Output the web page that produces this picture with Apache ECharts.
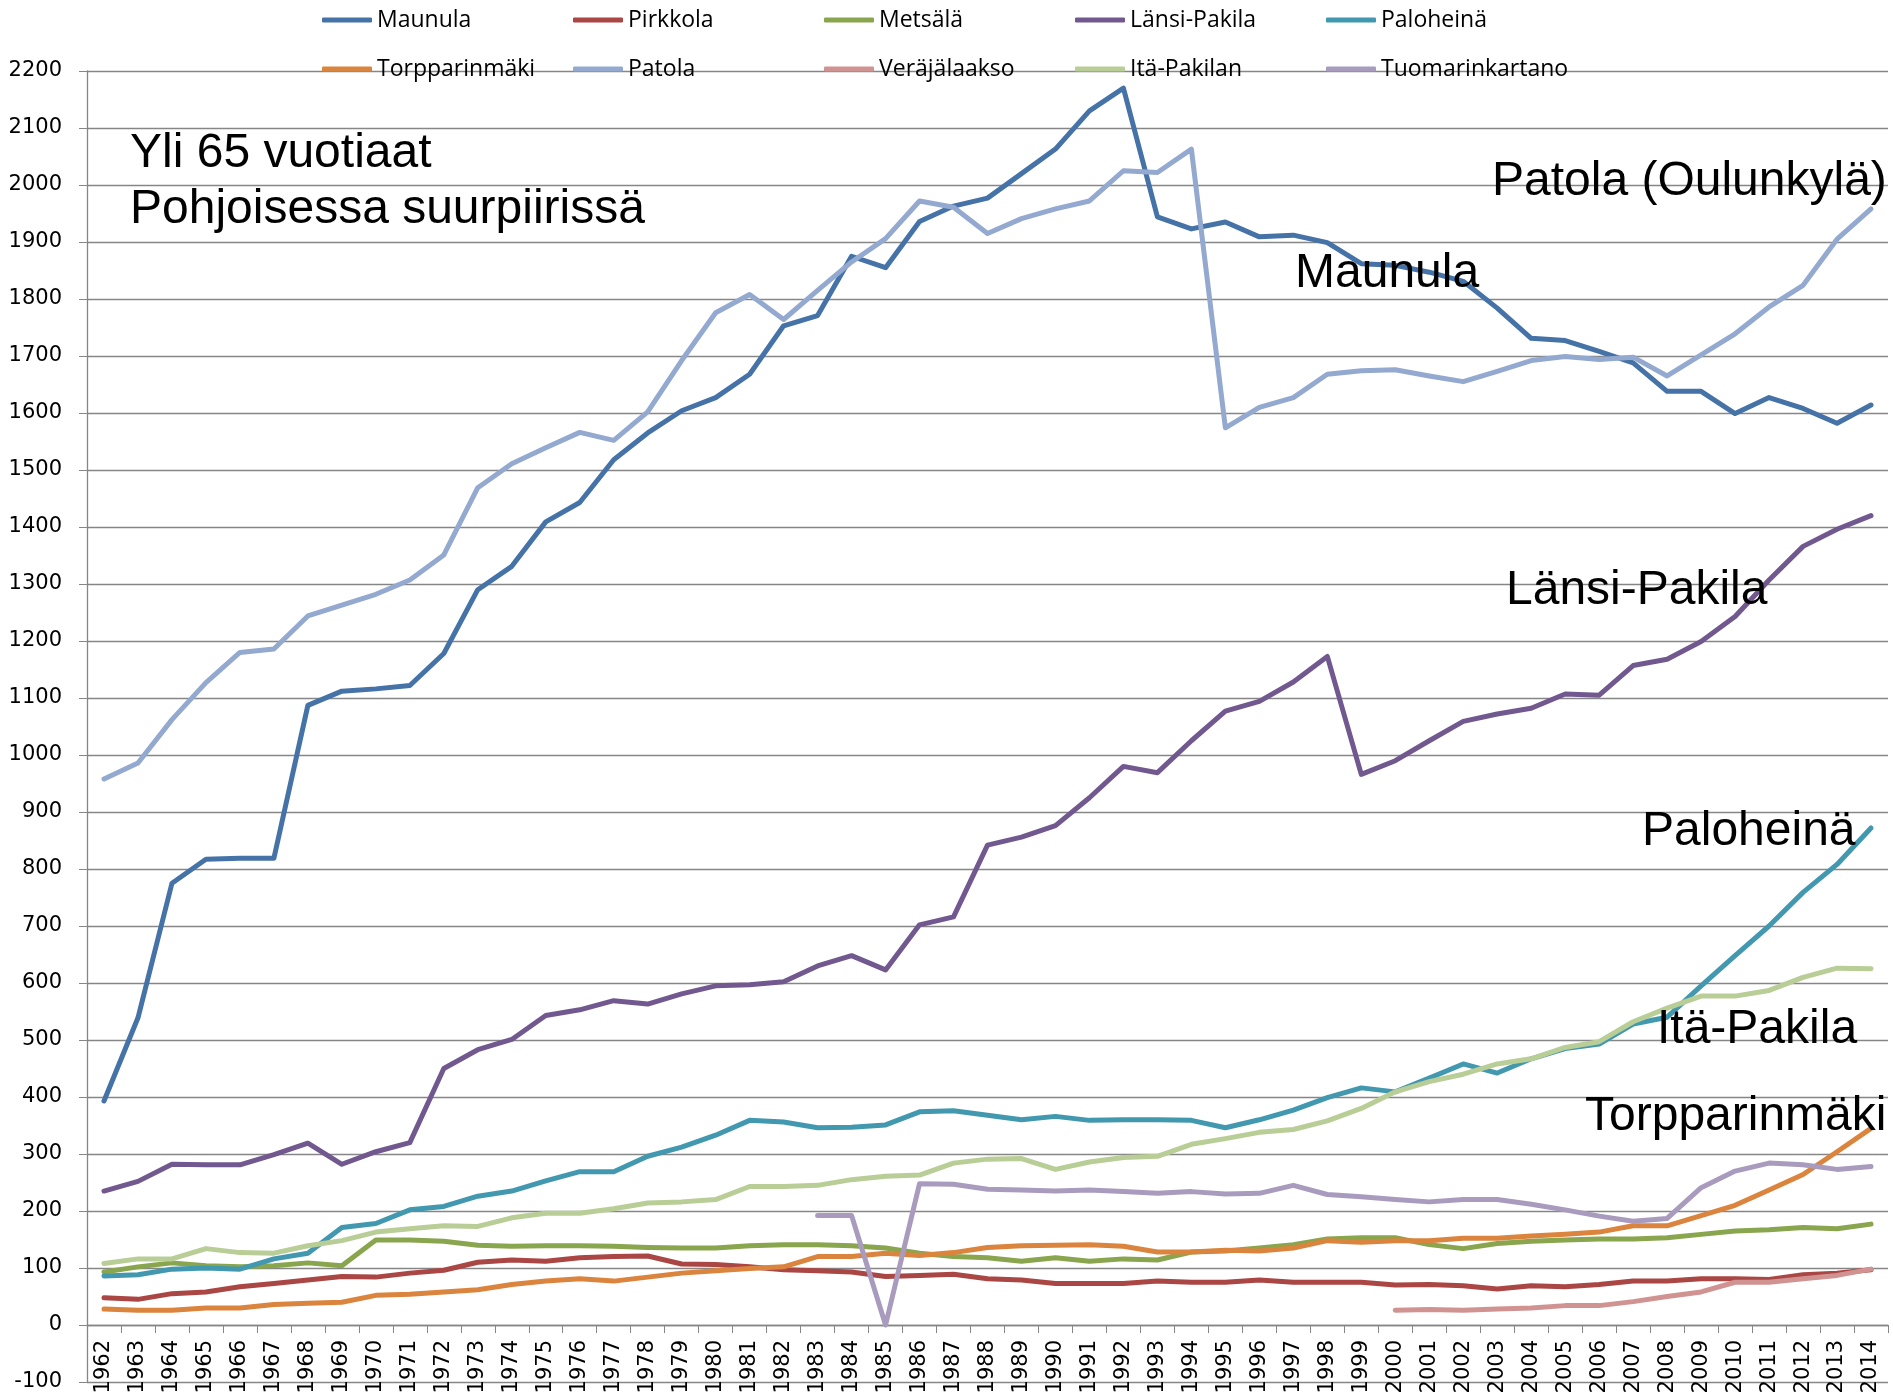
<!DOCTYPE html>
<html>
<head>
<meta charset="utf-8">
<title>Yli 65 vuotiaat Pohjoisessa suurpiirissä</title>
<script src="https://cdn.jsdelivr.net/npm/echarts@6/dist/echarts.min.js"></script>
<style>
  html, body { margin: 0; padding: 0; background: #ffffff; }
  #chart { width: 1893px; height: 1397px; }
</style>
</head>
<body>
<div id="chart"></div>
<script>
  // vuodet 1962-2014
  var years = ['1962','1963','1964','1965','1966','1967','1968','1969','1970','1971',
    '1972','1973','1974','1975','1976','1977','1978','1979','1980','1981',
    '1982','1983','1984','1985','1986','1987','1988','1989','1990','1991',
    '1992','1993','1994','1995','1996','1997','1998','1999','2000','2001',
    '2002','2003','2004','2005','2006','2007','2008','2009','2010','2011',
    '2012','2013','2014'];

  var maunula = [393, 539, 775, 817, 819, 819, 1087, 1112, 1116, 1122,
    1178, 1290, 1331, 1409, 1443, 1518, 1565, 1604, 1627, 1668,
    1753, 1771, 1875, 1855, 1936, 1963, 1977, 2020, 2063, 2130,
    2170, 1944, 1923, 1935, 1909, 1912, 1899, 1862, 1859, 1847,
    1831, 1784, 1731, 1727, 1708, 1688, 1638, 1638, 1599, 1627,
    1608, 1582, 1614];
  var pirkkola = [48, 45, 55, 58, 67, 73, 79, 85, 84, 91,
    96, 110, 114, 112, 118, 120, 121, 107, 106, 102,
    97, 95, 93, 85, 87, 89, 81, 79, 73, 73,
    73, 77, 75, 75, 79, 75, 75, 75, 70, 71,
    69, 63, 69, 67, 71, 77, 77, 81, 81, 80,
    88, 91, 97];
  var metsala = [93, 102, 109, 104, 102, 104, 109, 104, 149, 149,
    147, 140, 138, 139, 139, 138, 136, 135, 135, 139,
    141, 141, 139, 135, 126, 120, 118, 112, 118, 112,
    116, 114, 128, 130, 135, 141, 151, 153, 153, 141,
    134, 143, 147, 149, 151, 151, 153, 159, 165, 167,
    171, 169, 177];
  var lansiPakila = [235, 252, 282, 281, 281, 299, 319, 282, 304, 320,
    450, 483, 501, 543, 553, 569, 563, 581, 595, 597,
    602, 630, 648, 623, 702, 716, 842, 856, 876, 925,
    980, 969, 1025, 1077, 1094, 1128, 1173, 966, 990, 1025,
    1059, 1072, 1082, 1107, 1105, 1157, 1168, 1199, 1243, 1307,
    1366, 1396, 1420];
  var paloheina = [86, 88, 98, 100, 98, 116, 126, 171, 178, 202,
    208, 226, 235, 253, 269, 269, 296, 312, 333, 359,
    356, 346, 347, 351, 374, 376, 368, 360, 366, 359,
    360, 360, 359, 346, 360, 377, 399, 416, 409, 433,
    458, 442, 467, 485, 493, 528, 540, 595, 648, 700,
    759, 808, 872];
  var torpparinmaki = [28, 26, 26, 30, 30, 36, 38, 40, 52, 54,
    58, 62, 71, 77, 81, 77, 84, 91, 95, 99,
    102, 120, 120, 126, 122, 127, 136, 139, 140, 141,
    138, 128, 128, 131, 130, 135, 148, 145, 148, 148,
    152, 152, 156, 159, 163, 174, 174, 192, 210, 237,
    264, 304, 345];
  var patola = [958, 986, 1062, 1127, 1180, 1186, 1244, 1263, 1282, 1307,
    1351, 1469, 1511, 1539, 1566, 1552, 1602, 1692, 1776, 1808,
    1764, 1815, 1865, 1906, 1972, 1961, 1915, 1941, 1958, 1972,
    2025, 2022, 2063, 1574, 1610, 1627, 1668, 1674, 1676, 1665,
    1655, 1673, 1692, 1699, 1694, 1698, 1665, 1702, 1739, 1786,
    1824, 1905, 1958];
  // Veräjälaakso 2000-2014
  var verajalaakso = [26, 27, 26, 28, 30, 34, 34, 41, 50, 58, 75, 75, 81, 87, 98];
  var itaPakilan = [108, 116, 116, 134, 127, 126, 139, 148, 163, 169,
    174, 173, 188, 196, 196, 204, 214, 216, 220, 243,
    243, 245, 255, 261, 263, 284, 291, 292, 273, 286,
    294, 296, 317, 327, 338, 343, 358, 380, 409, 427,
    440, 458, 467, 487, 497, 532, 556, 577, 577, 587,
    610, 626, 625];
  // Tuomarinkartano 1983-2014
  var tuomarinkartano = [192, 192, 0, 248, 247, 238, 237, 235, 237, 234,
    231, 234, 230, 231, 245, 229, 225, 220, 216, 220,
    220, 212, 202, 191, 182, 187, 241, 270, 284, 281,
    273, 278];

  var names = ['Maunula', 'Pirkkola', 'Metsälä', 'Länsi-Pakila', 'Paloheinä',
    'Torpparinmäki', 'Patola', 'Veräjälaakso', 'Itä-Pakilan', 'Tuomarinkartano'];
  var colors = ['#4572A7', '#AA4643', '#89A54E', '#71588F', '#4198AF',
    '#DB843D', '#93A9CF', '#D19392', '#B9CD96', '#A99BBD'];

  // sarjat jotka alkavat myöhemmin: alku täytetään tyhjillä
  function fromYear(startYear, arr) {
    var pad = years.indexOf(String(startYear));
    var out = [];
    for (var i = 0; i < pad; i++) out.push(null);
    return out.concat(arr);
  }

  var values = [maunula, pirkkola, metsala, lansiPakila, paloheina,
    torpparinmaki, patola, fromYear(2000, verajalaakso), itaPakilan,
    fromYear(1983, tuomarinkartano)];

  // tekstit kuvan sisällä
  var notes = [
    ['Yli 65 vuotiaat', 130, 154],
    ['Pohjoisessa suurpiirissä', 130, 210],
    ['Patola (Oulunkylä)', 1492, 182],
    ['Maunula', 1295, 274],
    ['Länsi-Pakila', 1506, 591],
    ['Paloheinä', 1642, 832],
    ['Itä-Pakila', 1657, 1030],
    ['Torpparinmäki', 1585, 1117]
  ];

  var uiFont = '"Open Sans", "Liberation Sans", sans-serif';
  var axisFont = '"DejaVu Sans", sans-serif';
  var gridColor = '#868686';

  var legendBase = {
    icon: 'roundRect',
    itemWidth: 50,
    itemHeight: 5,
    itemGap: 20,
    left: 317,
    selectedMode: false,
    textStyle: { fontFamily: uiFont, fontSize: 23, color: '#000', width: 176, lineHeight: 26 }
  };

  var chart = echarts.init(document.getElementById('chart'), null, { renderer: 'canvas' });
  chart.setOption({
    animation: false,
    backgroundColor: '#ffffff',
    color: colors,
    grid: { left: 87, right: 5, top: 71, bottom: 15, containLabel: false, outerBoundsMode: 'none' },
    legend: [
      Object.assign({}, legendBase, { data: names.slice(0, 5), top: 2 }),
      Object.assign({}, legendBase, { data: names.slice(5), top: 51 })
    ],
    xAxis: [{
      // akseliviiva nollan kohdalla
      type: 'category',
      data: years,
      boundaryGap: true,
      axisLine: { onZero: true, lineStyle: { color: gridColor, width: 1.3 } },
      axisTick: { show: true, interval: 0, length: 8, lineStyle: { color: gridColor } },
      axisLabel: { show: false },
      splitLine: { show: false }
    }, {
      // vuosiluvut pystyssä nollaviivan alla
      type: 'category',
      data: years,
      position: 'bottom',
      boundaryGap: true,
      axisLine: { show: false, onZero: false },
      axisTick: { show: false },
      axisLabel: { rotate: 90, interval: 0, fontSize: 21, fontFamily: axisFont, color: '#000', margin: -42 },
      splitLine: { show: false }
    }],
    yAxis: {
      type: 'value',
      min: -100,
      max: 2200,
      interval: 100,
      axisLine: { show: true, lineStyle: { color: gridColor, width: 1.3 } },
      axisTick: { show: true, length: 8, lineStyle: { color: gridColor } },
      axisLabel: {
        fontSize: 21, fontFamily: axisFont, color: '#000', margin: 25,
        formatter: function (v) { return String(v); }
      },
      splitLine: { lineStyle: { color: gridColor, width: 1.3 } }
    },
    series: names.map(function (n, i) {
      return {
        name: n,
        type: 'line',
        data: values[i],
        symbol: 'none',
        connectNulls: false,
        lineStyle: { width: 5, color: colors[i], cap: 'round', join: 'round' },
        itemStyle: { color: colors[i] },
        emphasis: { disabled: true }
      };
    }),
    graphic: notes.map(function (t) {
      return {
        type: 'text',
        x: t[1],
        y: t[2],
        z: 100,
        style: {
          text: t[0],
          font: '48px "Liberation Sans", Arial, sans-serif',
          fill: '#000',
          align: 'left',
          verticalAlign: 'middle'
        }
      };
    })
  });
</script>
</body>
</html>
